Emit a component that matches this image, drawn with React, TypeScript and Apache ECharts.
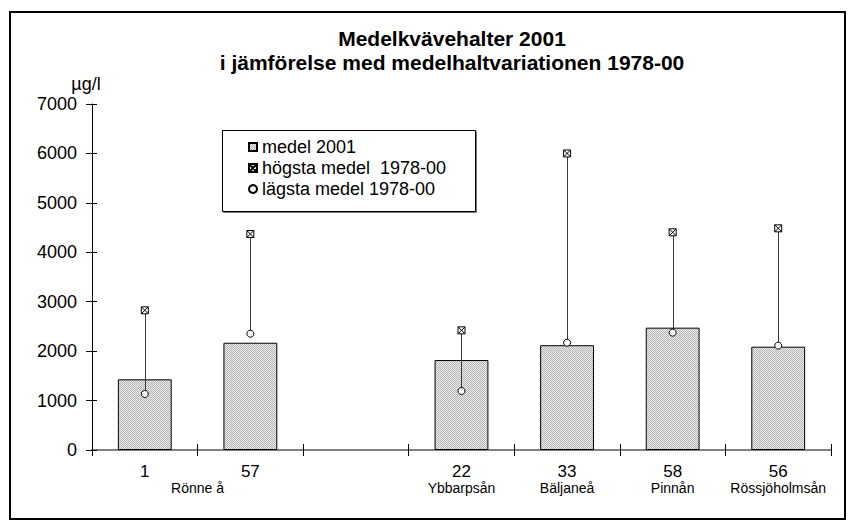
import React, { useEffect, useRef } from 'react';
import * as echarts from 'echarts';

// ---- data ----
const categories = ['1', '57', '', '22', '33', '58', '56'];
const riverNames = ['', '', '', 'Ybbarpsån', 'Bäljaneå', 'Pinnån', 'Rössjöholmsån'];
const groupLabel = 'Rönne å';
const mean2001: (number | null)[] = [1430, 2170, null, 1820, 2120, 2475, 2090];
const highest: (number | null)[] = [2826, 4370, null, 2421, 6000, 4404, 4485];
const lowest: (number | null)[] = [1133, 2353, null, 1194, 2171, 2374, 2111];
const yMin = 0;
const yMax = 7000;
const yInterval = 1000;

const titleLines = ['Medelkvävehalter 2001', 'i jämförelse med medelhaltvariationen 1978-00'];
const unitLabel = 'µg/l';
const nameMean = 'medel 2001';
const nameHigh = 'högsta medel  1978-00';
const nameLow = 'lägsta medel 1978-00';

const FONT = '"Liberation Sans", Arial, sans-serif';
const HIGH_ICON = 'path://M0,0H10V10H0Z M0,0L10,10 M10,0L0,10';

function makePattern() {
  const c = document.createElement('canvas');
  c.width = 2;
  c.height = 2;
  const ctx = c.getContext('2d')!;
  ctx.fillStyle = '#ececec';
  ctx.fillRect(0, 0, 2, 2);
  ctx.fillStyle = '#b4b4b4';
  ctx.fillRect(0, 0, 1, 1);
  ctx.fillRect(1, 1, 1, 1);
  return c;
}

const toSeries = (arr: (number | null)[]) => arr.map((v) => (v == null ? '-' : v));

export default function App() {
  const ref = useRef<HTMLDivElement>(null);
  useEffect(() => {
    if (!ref.current) return;
    const chart = echarts.init(ref.current, null, { renderer: 'svg' });
    const pattern = makePattern();
    const rangeData = categories
      .map((_, i) => (lowest[i] == null || highest[i] == null ? null : [i, lowest[i], highest[i]]))
      .filter((d) => d != null);

    const option: any = {
      animation: false,
      textStyle: { fontFamily: FONT, color: '#000' },
      title: {
        text: titleLines.join('\n'),
        left: 452,
        textAlign: 'center',
        top: 26,
        padding: 0,
        textStyle: { fontFamily: FONT, fontSize: 21, fontWeight: 'bold', lineHeight: 24, color: '#000' },
      },
      legend: {
        orient: 'vertical',
        left: 248,
        top: 137,
        padding: 0,
        itemGap: 1,
        itemWidth: 8,
        itemHeight: 8,
        textStyle: { fontFamily: FONT, fontSize: 18, lineHeight: 20, color: '#000' },
        data: [
          { name: nameMean, icon: 'rect' },
          { name: nameHigh, icon: HIGH_ICON },
          { name: nameLow, icon: 'circle' },
        ],
      },
      grid: { left: 92, right: 23, top: 104, bottom: 76 },
      xAxis: [
        {
          type: 'category',
          data: categories,
          axisLine: { show: true, lineStyle: { color: '#808080', width: 2 } },
          axisTick: { show: true, interval: 0, length: 6, lineStyle: { color: '#000', width: 1 } },
          axisLabel: {
            interval: 0,
            margin: 12,
            formatter: (v: string, i: number) =>
              riverNames[i] ? `{n|${v}}\n{s|${riverNames[i]}}` : `{n|${v}}`,
            rich: {
              n: { fontFamily: FONT, fontSize: 17, lineHeight: 18, color: '#000' },
              s: { fontFamily: FONT, fontSize: 14, lineHeight: 16, color: '#000' },
            },
          },
          splitLine: { show: false },
        },
        {
          type: 'category',
          data: categories,
          position: 'bottom',
          axisLine: { show: false },
          axisTick: { show: true, inside: true, interval: 0, length: 6, lineStyle: { color: '#000', width: 1 } },
          axisLabel: { show: false },
          splitLine: { show: false },
        },
      ],
      yAxis: [
        {
          type: 'value',
          min: yMin,
          max: yMax,
          interval: yInterval,
          name: unitLabel,
          nameLocation: 'end',
          nameGap: 11,
          nameTextStyle: { fontFamily: FONT, fontSize: 18, color: '#000', padding: [0, 12, 0, 0] },
          axisLine: { show: true, lineStyle: { color: '#000', width: 1 } },
          axisTick: { show: true, length: 6, lineStyle: { color: '#000', width: 1 } },
          axisLabel: {
            margin: 15,
            fontFamily: FONT,
            fontSize: 18,
            color: '#000',
            formatter: (v: number) => String(v),
          },
          splitLine: { show: false },
        },
        {
          type: 'value',
          min: yMin,
          max: yMax,
          interval: yInterval,
          position: 'left',
          axisLine: { show: false },
          axisTick: { show: true, inside: true, length: 5, lineStyle: { color: '#000', width: 1 } },
          axisLabel: { show: false },
          splitLine: { show: false },
        },
      ],
      graphic: [
        {
          type: 'rect',
          shape: { x: 10, y: 12, width: 835, height: 507 },
          style: { fill: 'none', stroke: '#000', lineWidth: 2 },
          silent: true,
          z: -1,
        },
        {
          type: 'rect',
          shape: { x: 222.5, y: 130.5, width: 253, height: 81 },
          style: {
            fill: '#fff',
            stroke: '#000',
            lineWidth: 1,
            shadowColor: '#777',
            shadowOffsetX: 1,
            shadowOffsetY: 1,
            shadowBlur: 0,
          },
          silent: true,
          z: -1,
        },
      ],
      series: [
        {
          name: nameMean,
          type: 'bar',
          data: toSeries(mean2001),
          barWidth: '51%',
          itemStyle: {
            color: { image: pattern, repeat: 'repeat' },
            borderColor: '#000',
            borderWidth: 1,
          },
          z: 2,
        },
        {
          name: 'range',
          type: 'custom',
          data: rangeData,
          encode: { x: 0, y: [1, 2] },
          renderItem: (_p: any, api: any) => {
            const lo = api.coord([api.value(0), api.value(1)]);
            const hi = api.coord([api.value(0), api.value(2)]);
            return {
              type: 'line',
              shape: { x1: Math.round(lo[0]) + 0.5, y1: lo[1], x2: Math.round(hi[0]) + 0.5, y2: hi[1] },
              style: { stroke: '#3a3a3a', lineWidth: 1 },
            };
          },
          z: 3,
        },
        {
          name: nameHigh,
          type: 'scatter',
          data: toSeries(highest),
          symbol: HIGH_ICON,
          symbolSize: 7,
          itemStyle: { color: '#fff', borderColor: '#000', borderWidth: 1, opacity: 1 },
          z: 4,
        },
        {
          name: nameLow,
          type: 'scatter',
          data: toSeries(lowest),
          symbol: 'circle',
          symbolSize: 7,
          itemStyle: { color: '#fff', borderColor: '#000', borderWidth: 1, opacity: 1 },
          z: 4,
        },
      ],
    };
    chart.setOption(option);

    const xa = chart.convertToPixel({ xAxisIndex: 0 }, categories[0]) as number;
    const xb = chart.convertToPixel({ xAxisIndex: 0 }, categories[1]) as number;
    chart.setOption({
      graphic: [
        {},
        {},
        {
          type: 'text',
          x: (xa + xb) / 2,
          y: 488,
          style: {
            text: groupLabel,
            fontFamily: FONT,
            fontSize: 14,
            fill: '#000',
            textAlign: 'center',
            textVerticalAlign: 'middle',
          },
        },
      ],
    });
    return () => chart.dispose();
  }, []);
  return <div ref={ref} style={{ position: 'fixed', left: 0, top: 0, width: 854, height: 526, background: '#fff' }} />;
}
